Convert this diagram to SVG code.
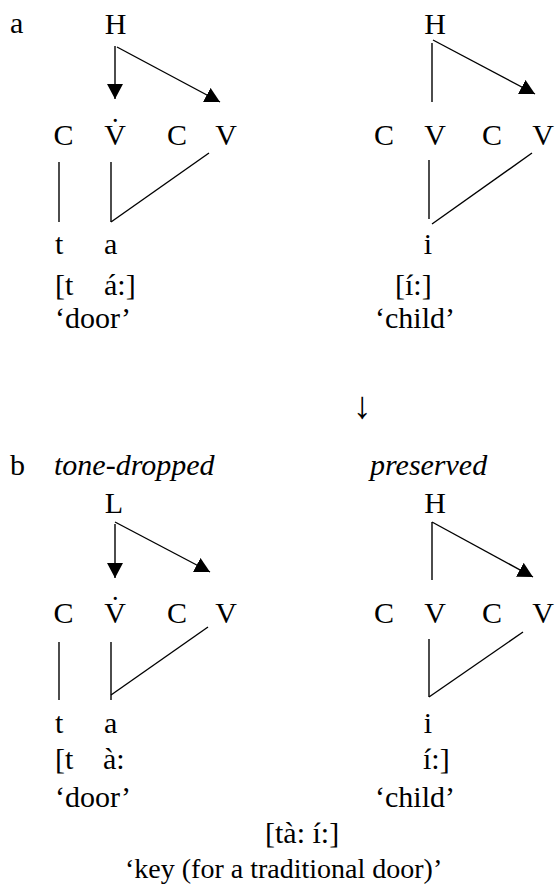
<svg xmlns="http://www.w3.org/2000/svg" width="555" height="885" viewBox="0 0 555 885">
<style>
text{font-family:"Liberation Serif","Times New Roman",serif;font-size:30px;fill:#000}
.m{text-anchor:middle}
.i{font-style:italic}
.ln{stroke:#000;stroke-width:1.4;fill:none}
</style>
<defs>
<marker id="ah" markerUnits="userSpaceOnUse" viewBox="0 0 15 16" refX="15" refY="8" markerWidth="15" markerHeight="16" orient="auto">
<path d="M0,0 L15,8 L0,16 z" fill="#000"/>
</marker>
</defs>
<rect width="555" height="885" fill="#fff"/>
<g id="connectors">
<line class="ln" x1="115" y1="46" x2="115" y2="99" marker-end="url(#ah)"/>
<line class="ln" x1="117" y1="47" x2="220" y2="102" marker-end="url(#ah)"/>
<line class="ln" x1="432" y1="43" x2="432" y2="102"/>
<line class="ln" x1="433" y1="40" x2="535" y2="94" marker-end="url(#ah)"/>
<line class="ln" x1="59" y1="162" x2="59" y2="222"/>
<line class="ln" x1="111" y1="162" x2="111" y2="222"/>
<line class="ln" x1="209" y1="153" x2="111" y2="222"/>
<line class="ln" x1="429" y1="160" x2="429" y2="219"/>
<line class="ln" x1="532" y1="153" x2="432" y2="224"/>
<line class="ln" x1="115" y1="524" x2="115" y2="578" marker-end="url(#ah)"/>
<line class="ln" x1="115" y1="522" x2="210" y2="572" marker-end="url(#ah)"/>
<line class="ln" x1="432" y1="522" x2="432" y2="580"/>
<line class="ln" x1="432" y1="522" x2="533" y2="577" marker-end="url(#ah)"/>
<line class="ln" x1="59" y1="642" x2="59" y2="700"/>
<line class="ln" x1="111" y1="642" x2="111" y2="700"/>
<line class="ln" x1="208" y1="627" x2="111" y2="695"/>
<line class="ln" x1="429" y1="639" x2="429" y2="697"/>
<line class="ln" x1="523" y1="632" x2="429" y2="697"/>
</g>
<g id="label-a"><text x="10" y="33">a</text></g>
<g id="a-left">
<text class="m" x="115.5" y="34">H</text>
<text class="m" x="63.5" y="145">C</text>
<text class="m" x="115" y="145">V̇</text>
<text class="m" x="177" y="145">C</text>
<text class="m" x="226" y="145">V</text>
<text x="55" y="254">t</text>
<text x="104" y="254">a</text>
<text x="55" y="295">[t</text>
<text x="104" y="295">á:]</text>
<text x="55" y="328">‘door’</text>
</g>
<g id="a-right">
<text class="m" x="435" y="34">H</text>
<text class="m" x="384" y="145">C</text>
<text class="m" x="435" y="145">V</text>
<text class="m" x="492" y="145">C</text>
<text class="m" x="543" y="145">V</text>
<text class="m" x="428" y="254">i</text>
<text x="395" y="295">[í:]</text>
<text x="375" y="328">‘child’</text>
</g>
<g id="arrow-mid"><text class="m" x="362" y="418" style="font-size:38px">↓</text></g>
<g id="label-b"><text x="10" y="475">b</text></g>
<g id="b-left">
<text class="i" x="54" y="475">tone-dropped</text>
<text class="m" x="114" y="513">L</text>
<text class="m" x="63.5" y="623">C</text>
<text class="m" x="115" y="623">V̇</text>
<text class="m" x="177" y="623">C</text>
<text class="m" x="226" y="623">V</text>
<text x="55" y="733">t</text>
<text x="104" y="733">a</text>
<text x="55" y="769">[t</text>
<text x="103" y="769">à:</text>
<text x="55" y="807">‘door’</text>
</g>
<g id="b-right">
<text class="i" x="370" y="475">preserved</text>
<text class="m" x="435" y="513">H</text>
<text class="m" x="384" y="623">C</text>
<text class="m" x="435" y="623">V</text>
<text class="m" x="492" y="623">C</text>
<text class="m" x="543" y="623">V</text>
<text class="m" x="428" y="733">i</text>
<text x="423" y="769">í:]</text>
<text x="375" y="807">‘child’</text>
</g>
<g id="result">
<text x="265" y="843">[tà: í:]</text>
<text x="125" y="878" style="font-size:28px">‘key (for a traditional door)’</text>
</g>
</svg>
